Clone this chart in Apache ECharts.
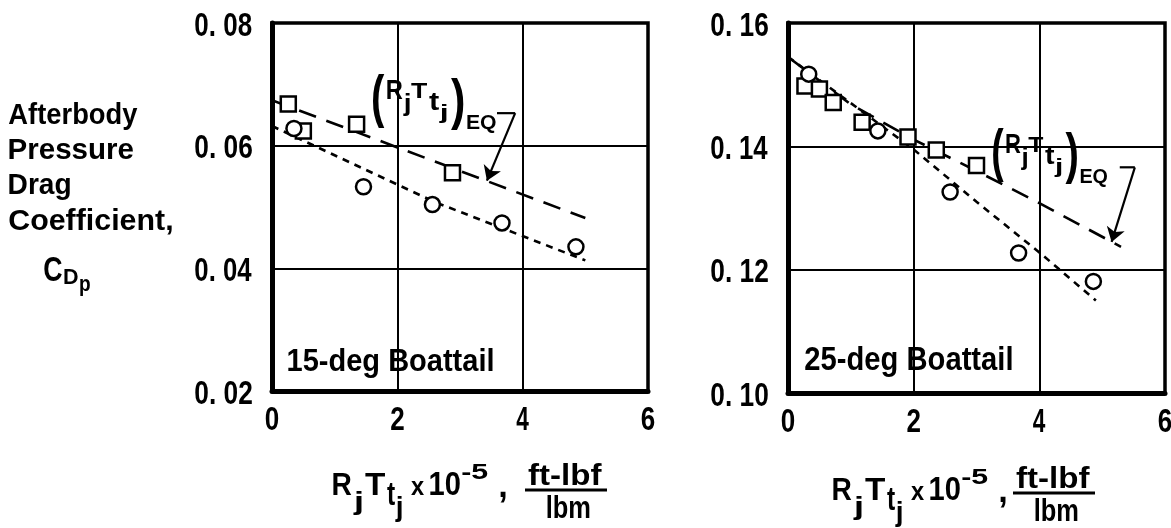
<!DOCTYPE html>
<html>
<head>
<meta charset="utf-8">
<script src="https://cdn.jsdelivr.net/npm/echarts@6/dist/echarts.min.js"></script>
<style>
  html, body { margin: 0; padding: 0; background: #fff; }
  #chart { width: 1171px; height: 528px; }
</style>
</head>
<body>
<div id="chart"></div>
<script>
// Afterbody pressure drag coefficient against jet R*Tt, for two boattail angles.

const xTicks = [0, 2, 4, 6];
const yTicks15 = [0.02, 0.04, 0.06, 0.08];
const yTicks25 = [0.10, 0.12, 0.14, 0.16];

// 15-deg boattail
const squares15 = [[0.26, 0.0668], [0.50, 0.0624], [1.35, 0.0635], [2.88, 0.0556]];
const circles15 = [[0.35, 0.0628], [1.46, 0.0533], [2.56, 0.0504], [3.67, 0.0474], [4.85, 0.0435]];
const fairSquares15 = [[0, 0.0674], [5, 0.0482]];
const fairCircles15 = [[0, 0.0632], [2.6, 0.0508], [5, 0.0413]];
const leader15 = [[3.59, 0.0653], [3.88, 0.0653], [3.43, 0.0543]];

// 25-deg boattail
const squares25 = [[0.27, 0.1498], [0.50, 0.1493], [0.72, 0.1471], [1.18, 0.1439], [1.91, 0.1415], [2.36, 0.1394], [3.00, 0.1369]];
const circles25 = [[0.33, 0.1517], [1.43, 0.1425], [2.58, 0.1326], [3.67, 0.1227], [4.86, 0.1181]];
const fairSquares25 = [[0, 0.1545], [1, 0.1468], [2, 0.1411], [3, 0.1360], [4, 0.1308], [5.3, 0.1237]];
const fairCircles25 = [[0, 0.1545], [1, 0.1470], [2, 0.1395], [3, 0.1310], [4, 0.1228], [4.9, 0.1150]];
const leader25 = [[5.28, 0.1366], [5.52, 0.1366], [5.15, 0.1245]];

const panelNames = ['15-deg Boattail', '25-deg Boattail'];
const yTitleLines = ['Afterbody', 'Pressure', 'Drag', 'Coefficient,'];

const FAMILY = '"Liberation Sans", Arial, sans-serif';
const INK = '#000';
const BASE = 40;

const chart = echarts.init(document.getElementById('chart'), null, { renderer: 'canvas' });

function tickFmt(v) { return v.toFixed(2).replace('.', '. '); }

// Hand-lettered look: each text piece is stretched to fill a given ink box.
const mctx = document.createElement('canvas').getContext('2d');
function inkText(s, left, right, top, bottom) {
  mctx.font = 'bold ' + BASE + 'px ' + FAMILY;
  mctx.textBaseline = 'middle';
  mctx.textAlign = 'left';
  const m = mctx.measureText(s);
  const inkW = m.actualBoundingBoxLeft + m.actualBoundingBoxRight;
  const inkH = m.actualBoundingBoxAscent + m.actualBoundingBoxDescent;
  const sx = (right - left) / inkW;
  const sy = (bottom - top) / inkH;
  return {
    type: 'text', silent: true, z: 10,
    x: left + m.actualBoundingBoxLeft * sx,
    y: top + m.actualBoundingBoxAscent * sy,
    scaleX: sx, scaleY: sy,
    style: {
      text: s, fill: INK, fontSize: BASE, fontFamily: FAMILY, fontWeight: 'bold',
      align: 'left', verticalAlign: 'middle'
    }
  };
}
function rule(x1, x2, y, w) {
  return { type: 'line', silent: true, z: 10, shape: { x1: x1, y1: y, x2: x2, y2: y }, style: { stroke: INK, lineWidth: w } };
}

function xAxisFor(i) {
  return {
    type: 'value', gridIndex: i, min: xTicks[0], max: xTicks[xTicks.length - 1], interval: 2,
    axisLine: { show: true, onZero: false, lineStyle: { color: INK, width: 5 } },
    axisTick: { show: false },
    axisLabel: { show: false },
    splitLine: { show: true, lineStyle: { color: INK, width: 2 } }
  };
}
function yAxisFor(i, ticks) {
  return {
    type: 'value', gridIndex: i, min: ticks[0], max: ticks[ticks.length - 1], interval: 0.02,
    axisLine: { show: true, onZero: false, lineStyle: { color: INK, width: 5 } },
    axisTick: { show: false },
    axisLabel: { show: false },
    splitLine: { show: true, lineStyle: { color: INK, width: 2 } }
  };
}

function fairing(i, data, dash) {
  return {
    type: 'line', xAxisIndex: i, yAxisIndex: i, data: data, symbol: 'none', z: 2,
    lineStyle: { color: INK, width: 2.6, type: dash }, silent: true
  };
}
function points(i, data, shape) {
  return {
    type: 'scatter', xAxisIndex: i, yAxisIndex: i, data: data, symbol: shape, symbolSize: 15, z: 4,
    itemStyle: { color: '#fff', borderColor: INK, borderWidth: 2.5, opacity: 1 }, silent: true
  };
}
function leader(i, pts) {
  return {
    type: 'line', xAxisIndex: i, yAxisIndex: i, data: pts.slice(0, 2), symbol: 'none', z: 5,
    lineStyle: { color: INK, width: 2.2, type: 'solid' }, silent: true,
    markLine: {
      silent: true, symbol: ['none', 'arrow'], symbolSize: 14, animation: false,
      label: { show: false },
      lineStyle: { color: INK, width: 2.2, type: 'solid' },
      data: [[{ coord: pts[1] }, { coord: pts[2] }]]
    }
  };
}

chart.setOption({
  animation: false,
  backgroundColor: '#fff',
  grid: [
    { left: 272, top: 23, width: 376, height: 368, show: true, borderColor: INK, borderWidth: 3.5, backgroundColor: 'transparent' },
    { left: 788, top: 23, width: 377, height: 370, show: true, borderColor: INK, borderWidth: 3.5, backgroundColor: 'transparent' }
  ],
  xAxis: [xAxisFor(0), xAxisFor(1)],
  yAxis: [yAxisFor(0, yTicks15), yAxisFor(1, yTicks25)],
  series: [
    fairing(0, fairSquares15, [18, 11]),
    fairing(0, fairCircles15, [7, 6]),
    points(0, squares15, 'rect'),
    points(0, circles15, 'circle'),
    leader(0, leader15),
    fairing(1, fairSquares25, [18, 11]),
    fairing(1, fairCircles25, [7, 6]),
    points(1, squares25, 'rect'),
    points(1, circles25, 'circle'),
    leader(1, leader25)
  ]
});

// (R_j T_t_j)_EQ, laid out from the opening parenthesis
function eqLabel(ax, ay, k) {
  const p = (s, l, r, t, b) => inkText(s, ax + l * k, ax + r * k, ay + t, ay + b);
  return [
    p('(', 0, 12, 0, 54),
    p('R', 14, 30, 6, 26),
    p('j', 30, 37, 20, 43),
    p('T', 38, 54, 10, 25),
    p('t', 56, 66, 20, 37),
    p('j', 66, 74, 30, 50),
    p(')', 78, 91, 4, 56),
    p('EQ', 94, 123, 41, 60)
  ];
}

// R_j T_t_j x 10^-5, ft-lbf / lbm
function xTitle(dx, dy, fdx, fdy) {
  const p = (s, l, r, t, b) => inkText(s, l + dx, r + dx, t + dy, b + dy);
  const q = (s, l, r, t, b) => inkText(s, l + fdx, r + fdx, t + fdy, b + fdy);
  return [
    p('R', 333, 352, 473, 495),
    p('j', 353, 362, 490, 515),
    p('T', 365, 385, 473, 495),
    p('t', 387, 395, 483, 505),
    p('j', 395, 402, 495, 521),
    p('x', 411, 424, 481, 495),
    p('10', 430, 460, 472, 495),
    p('-5', 462, 488, 464, 479),
    p(',', 500, 506, 491, 503),
    q('ft-lbf', 528, 602, 463, 485),
    rule(525 + fdx, 607 + fdx, 490 + fdy, 3),
    q('lbm', 547, 590, 495, 518)
  ];
}

const staticGraphics = [
  inkText(yTitleLines[0], 9, 138, 102, 130),
  inkText(yTitleLines[1], 9, 133, 138, 159),
  inkText(yTitleLines[2], 9, 70, 173, 200),
  inkText(yTitleLines[3], 9, 172, 208, 235),
  inkText('C', 44, 62, 256, 281),
  inkText('D', 64, 78, 269, 284),
  inkText('p', 80, 90, 279, 296),
  inkText(panelNames[0], 288, 493, 347, 377),
  inkText(panelNames[1], 805, 1012, 346, 377)
]
  .concat(eqLabel(373, 73, 1))
  .concat(eqLabel(993, 127, 0.93))
  .concat(xTitle(0, 0, 0, 0))
  .concat(xTitle(500, 5, 488, 3));

// Tick labels placed from the axes' own scales
const yTickSets = [yTicks15, yTicks25];
const tickGraphics = [];
[0, 1].forEach(g => {
  const origin = chart.convertToPixel({ gridIndex: g }, [xTicks[0], yTickSets[g][0]]);
  const axisX = origin[0], axisBottom = origin[1];
  yTickSets[g].forEach(v => {
    const py = chart.convertToPixel({ gridIndex: g }, [xTicks[0], v])[1];
    tickGraphics.push(inkText(tickFmt(v), axisX - 20 - 57, axisX - 20, py - 10.5, py + 12.5));
  });
  xTicks.forEach(v => {
    const px = chart.convertToPixel({ gridIndex: g }, [v, yTickSets[g][0]])[0];
    tickGraphics.push(inkText(String(v), px - 6.5, px + 6.5, axisBottom + 16, axisBottom + 39));
  });
});

chart.setOption({ graphic: staticGraphics.concat(tickGraphics) });
</script>
</body>
</html>
